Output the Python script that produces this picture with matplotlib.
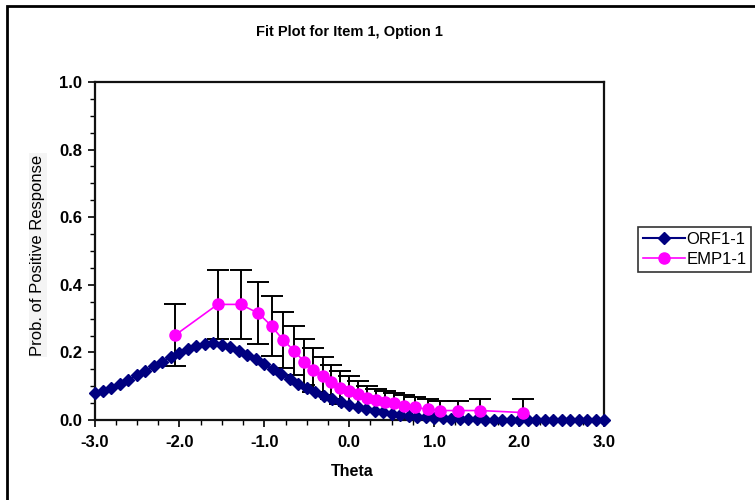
import matplotlib
matplotlib.use("Agg")
import matplotlib.pyplot as plt
from matplotlib.patches import Rectangle
from matplotlib.ticker import MultipleLocator, FormatStrFormatter

plt.rcParams['font.family'] = ['Liberation Sans', 'DejaVu Sans']

# ---------------------------------------------------------------------------
# Data
# ---------------------------------------------------------------------------
orf_theta = [
    -3.0, -2.9, -2.8, -2.7, -2.6, -2.5, -2.4, -2.3, -2.2, -2.1,
    -2.0, -1.9, -1.8, -1.7, -1.6, -1.5, -1.4, -1.3, -1.2, -1.1,
    -1.0, -0.9, -0.8, -0.7, -0.6, -0.5, -0.4, -0.3, -0.2, -0.1,
    0.0, 0.1, 0.2, 0.3, 0.4, 0.5, 0.6, 0.7, 0.8, 0.9,
    1.0, 1.1, 1.2, 1.3, 1.4, 1.5, 1.6, 1.7, 1.8, 1.9,
    2.0, 2.1, 2.2, 2.3, 2.4, 2.5, 2.6, 2.7, 2.8, 2.9, 3.0,
]
orf_prob = [
    0.079, 0.087, 0.096, 0.107, 0.119, 0.132, 0.145, 0.159, 0.173, 0.187,
    0.199, 0.210, 0.219, 0.225, 0.227, 0.223, 0.215, 0.204, 0.193, 0.180,
    0.165, 0.150, 0.135, 0.121, 0.107, 0.094, 0.082, 0.072, 0.061, 0.052,
    0.044, 0.038, 0.032, 0.027, 0.023, 0.019, 0.015, 0.012, 0.010, 0.008,
    0.006, 0.005, 0.004, 0.003, 0.002, 0.002, 0.001, 0.001, 0.001, 0.001,
    0.000, 0.000, 0.000, 0.000, 0.000, 0.000, 0.000, 0.000, 0.000, 0.000, 0.000,
]

emp_theta = [
    -2.05, -1.55, -1.28, -1.07, -0.915, -0.78, -0.65, -0.53, -0.425,
    -0.315, -0.21, -0.105, 0.0, 0.105, 0.21, 0.32, 0.42, 0.53, 0.645,
    0.77, 0.925, 1.065, 1.275, 1.545, 2.045,
]
emp_prob = [
    0.251, 0.342, 0.342, 0.316, 0.278, 0.237, 0.205, 0.172, 0.148,
    0.130, 0.113, 0.096, 0.086, 0.076, 0.066, 0.059, 0.054, 0.049, 0.042,
    0.037, 0.032, 0.028, 0.028, 0.028, 0.022,
]
emp_err = [
    0.092, 0.103, 0.103, 0.092, 0.089, 0.083, 0.073, 0.068, 0.066,
    0.057, 0.050, 0.050, 0.044, 0.039, 0.035, 0.033, 0.032, 0.031, 0.032,
    0.030, 0.029, 0.029, 0.029, 0.034, 0.040,
]

NAVY = "#000080"
MAGENTA = "#FF00FF"

# ---------------------------------------------------------------------------
# Figure
# ---------------------------------------------------------------------------
fig = plt.figure(figsize=(7.55, 5.0), dpi=100)
ax = fig.add_axes([94.5 / 755, 80 / 500, (604 - 94.5) / 755, (420 - 82) / 500])

ax.errorbar(emp_theta, emp_prob, yerr=emp_err, fmt="none", ecolor="black",
            elinewidth=1.4, capsize=8, capthick=1.4, zorder=2)
ax.plot(orf_theta, orf_prob, color=NAVY, marker="D", markersize=6.5,
        linewidth=1.5, markerfacecolor=NAVY, markeredgecolor=NAVY,
        label="ORF1-1", zorder=3, clip_on=False)
ax.plot(emp_theta, emp_prob, color=MAGENTA, marker="o", markersize=8,
        linewidth=1.2, markerfacecolor=MAGENTA, markeredgecolor=MAGENTA,
        label="EMP1-1", zorder=4)

ax.set_xlim(-3.0, 3.0)
ax.set_ylim(0.0, 1.0)
ax.xaxis.set_major_locator(MultipleLocator(1.0))
ax.xaxis.set_minor_locator(MultipleLocator(0.25))
ax.yaxis.set_major_locator(MultipleLocator(0.2))
ax.yaxis.set_minor_locator(MultipleLocator(0.05))
ax.xaxis.set_major_formatter(FormatStrFormatter("%.1f"))
ax.yaxis.set_major_formatter(FormatStrFormatter("%.1f"))

for spine in ax.spines.values():
    spine.set_linewidth(1.6)
    spine.set_color("#111111")

ax.tick_params(which="major", direction="out", length=5, width=1.2,
               labelsize=12, pad=4)
ax.tick_params(which="minor", direction="out", length=3.5, width=1.0)
for lbl in ax.get_xticklabels() + ax.get_yticklabels():
    lbl.set_fontweight("bold")
ax.tick_params(axis="x", pad=6)

# Title and axis labels
fig.text(349 / 755, 1 - 32 / 500, "Fit Plot for Item 1, Option 1",
         ha="center", va="center", fontsize=10.5, fontweight="bold")
fig.text(352 / 755, 1 - 471 / 500, "Theta", ha="center", va="center",
         fontsize=11.5, fontweight="bold")
fig.text(38 / 755, 1 - 255 / 500, "Prob. of Positive Response",
         ha="center", va="center", rotation=90, fontsize=12,
         bbox=dict(facecolor="#f4f4f4", edgecolor="none", pad=1))

# Legend outside on the right
leg = fig.legend(loc="upper left", bbox_to_anchor=(638 / 755, 1 - 227 / 500),
                 frameon=True, fancybox=False, edgecolor="black",
                 fontsize=12, handlelength=2.5, handletextpad=0.1,
                 borderpad=0.3, labelspacing=0.3, borderaxespad=0)
leg.get_frame().set_linewidth(1.2)

# Outer chart border (runs off the right and bottom of the image)
fig.patches.append(Rectangle((6.5 / 755, -0.2), 1.5, 1.2 - 5.5 / 500,
                             transform=fig.transFigure, fill=False,
                             edgecolor="black", linewidth=2.0))

fig.savefig("out.png", dpi=100)
